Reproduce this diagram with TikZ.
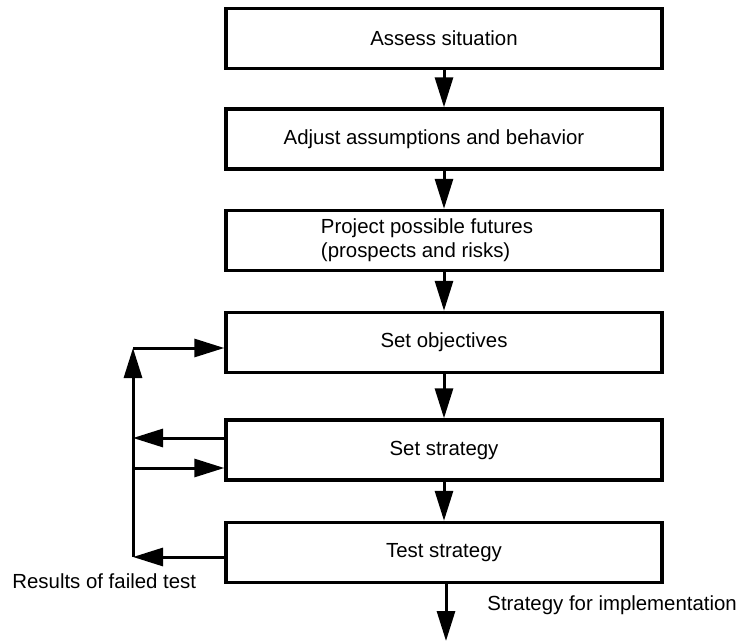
\documentclass[tikz,border=0pt]{standalone}
\usepackage{fontspec}
\setmainfont{Liberation Sans}
\usetikzlibrary{arrows.meta}
\begin{document}
\begin{tikzpicture}[x=0.5pt,y=-0.5pt,
  stage/.style={draw=black, line width=1.7pt, minimum width=218pt, minimum height=30pt,
                inner sep=0pt, font=\fontsize{10.2}{12}\selectfont, align=center},
  flow/.style={line width=1.5pt, -{Triangle[length=15pt,width=9pt]}},
  note/.style={font=\fontsize{10.2}{12}\selectfont, inner sep=0pt}]
\useasboundingbox (0,0) rectangle (740,642);

% planning stages, top to bottom
\node[stage] (assess)     at (444,38.5)  {Assess situation};
\node[stage] (adjust)     at (444,139)   {\hspace*{-10pt}Adjust assumptions and behavior};
\node[stage, align=left] (project) at (444,240.5)
  {\hspace*{-17pt}Project possible futures\\\hspace*{-17pt}(prospects and risks)};
\node[stage] (objectives) at (444,342.5) {Set objectives};
\node[stage] (strategy)   at (444,450)   {Set strategy};
\node[stage] (test)       at (444,552.5) {Test strategy};

% main downward flow
\draw[flow] (assess.south)     -- (adjust.north);
\draw[flow] (adjust.south)     -- (project.north);
\draw[flow] (project.south)    -- (objectives.north);
\draw[flow] (objectives.south) -- (strategy.north);
\draw[flow] (strategy.south)   -- (test.north);

% outgoing strategy
\coordinate (final) at (446,641);
\draw[flow] (test.south -| final) -- (final);
\node[note, anchor=base west] (impl) at (487,610) {Strategy for implementation};

% feedback loop on the left
\coordinate (rail) at (133,0);
\coordinate (objIn)     at ([yshift=-2.75pt]objectives.west);
\coordinate (stratOut)  at ([yshift=6pt]strategy.west);
\coordinate (stratIn)   at ([yshift=-9pt]strategy.west);
\coordinate (testOut)   at ([yshift=-2.25pt]test.west);
\coordinate (railTop)   at (rail |- objIn);
\coordinate (railStOut) at (rail |- stratOut);
\coordinate (railStIn)  at (rail |- stratIn);
\coordinate (railBot)   at (rail |- testOut);

\draw[flow] (testOut) -- (railBot);
\draw[line width=1.5pt] (railBot) -- (railStIn);
\draw[flow] (railStIn) -- (railTop);
\draw[flow] (railTop) -- (objIn);
\draw[flow] (stratOut) -- (railStOut);
\draw[flow] (railStIn) -- (stratIn);

\node[note, anchor=base west] (failed) at (12,588) {Results of failed test};
\end{tikzpicture}
\end{document}
